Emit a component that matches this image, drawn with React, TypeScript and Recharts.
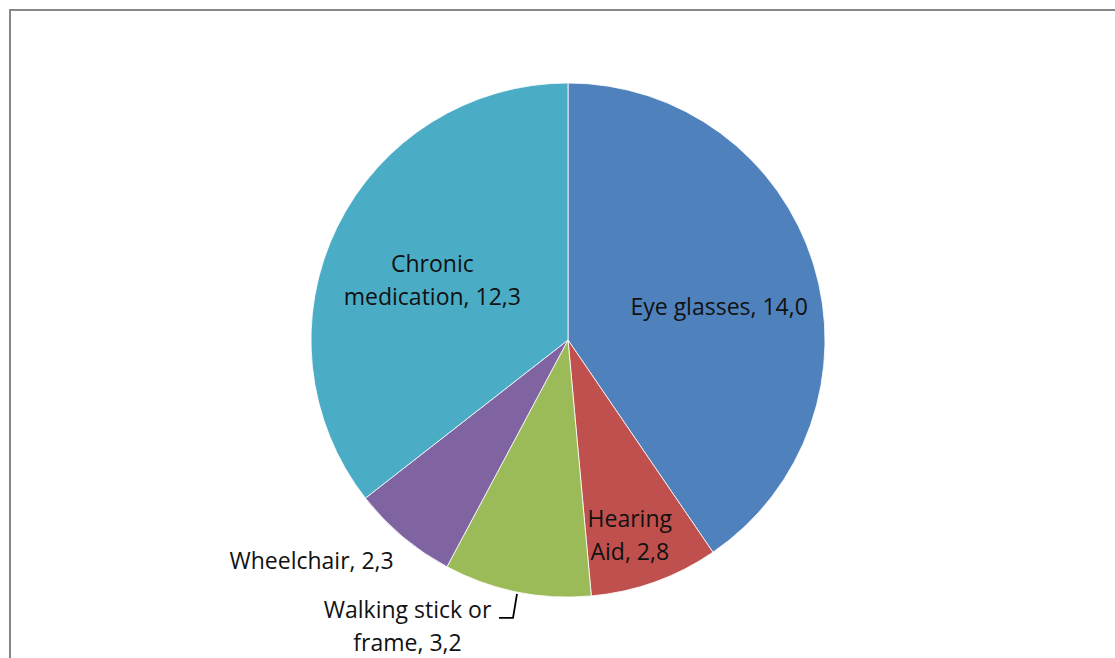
import { PieChart, Pie, Cell } from "recharts";

const categories = [
  "Eye glasses",
  "Hearing Aid",
  "Walking stick or frame",
  "Wheelchair",
  "Chronic medication",
];
const values = [14.0, 2.8, 3.2, 2.3, 12.3];
const colors = ["#4F81BD", "#C0504D", "#9BBB59", "#8064A2", "#4BACC6"];

// words on the first line of each label (0 = single line)
const breakAfter = [0, 1, 3, 0, 1];

const data = categories.map((name, i) => ({ name, value: values[i] }));

// label placement relative to the slice mid angle
const labelLayout = [
  { r: 0.64, dx: -6, dy: 15 },
  { r: 0.78, dx: -6, dy: 5.5 },
  { r: 1, dx: -109.5, dy: 34, leader: true },
  { r: 1, dx: -91, dy: 23 },
  { r: 0.57, dx: -4, dy: 4 },
];

const RADIAN = Math.PI / 180;
const LINE_HEIGHT = 33;

const renderLabel = (props: any) => {
  const { cx, cy, midAngle, outerRadius, index, name, value } = props;
  const layout = labelLayout[index];
  const rr = outerRadius * layout.r;
  const px = cx + rr * Math.cos(-midAngle * RADIAN);
  const py = cy + rr * Math.sin(-midAngle * RADIAN);
  const x = px + layout.dx;
  const y = py + layout.dy;

  const words = `${name}, ${Number(value).toFixed(1).replace(".", ",")}`.split(" ");
  const cut = breakAfter[index];
  const lines = cut > 0 ? [words.slice(0, cut).join(" "), words.slice(cut).join(" ")] : [words.join(" ")];

  return (
    <g>
      {layout.leader && (
        <path
          d={`M${px},${py + 2} L${px - 4},${py + 26} L${px - 18},${py + 26}`}
          stroke="#000"
          strokeWidth={1.8}
          fill="none"
        />
      )}
      <text
        x={x}
        y={y}
        textAnchor="middle"
        fill="#111"
        fontSize={23}
        fontFamily="'Open Sans', sans-serif"
      >
        {lines.map((line, i) => (
          <tspan
            key={i}
            x={x}
            y={y + (i - (lines.length - 1) / 2) * LINE_HEIGHT}
            dominantBaseline="central"
          >
            {line}
          </tspan>
        ))}
      </text>
    </g>
  );
};

export default function App() {
  return (
    <div
      style={{
        position: "fixed",
        left: 0,
        top: 0,
        width: 1115,
        height: 658,
        overflow: "hidden",
        background: "#fff",
      }}
    >
      <div
        style={{
          position: "absolute",
          left: 9,
          top: 9,
          width: 1200,
          height: 800,
          border: "2px solid #878787",
        }}
      />
      <div style={{ position: "absolute", left: 0, top: 0 }}>
        <PieChart width={1115} height={658} margin={{ top: 0, right: 0, bottom: 0, left: 0 }}>
          <Pie
            data={data}
            dataKey="value"
            nameKey="name"
            cx={568}
            cy={340}
            outerRadius={257}
            startAngle={90}
            endAngle={-270}
            stroke="#ffffff"
            strokeWidth={0.8}
            label={renderLabel}
            labelLine={false}
            isAnimationActive={false}
          >
            {data.map((entry, i) => (
              <Cell key={entry.name} fill={colors[i]} />
            ))}
          </Pie>
        </PieChart>
      </div>
    </div>
  );
}
